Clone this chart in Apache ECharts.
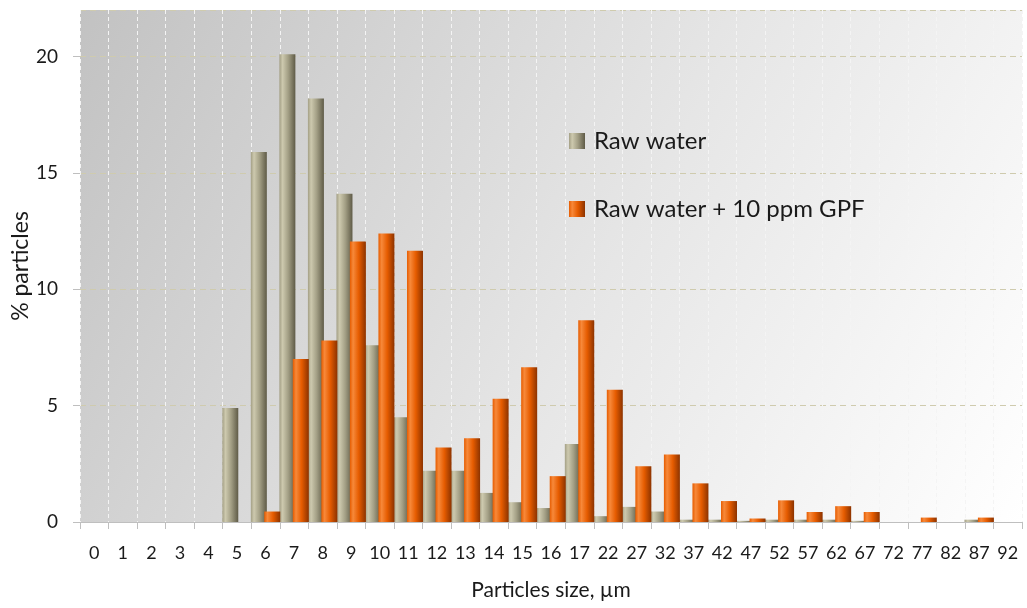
<!DOCTYPE html>
<html>
<head>
<meta charset="utf-8">
<script src="https://cdn.jsdelivr.net/npm/echarts@6/dist/echarts.min.js"></script>
<style>
  html, body { margin: 0; padding: 0; background: #fff; }
  #chart { width: 1027px; height: 608px; }
</style>
</head>
<body>
<div id="chart"></div>
<script>
// particle size classes (µm)
const categories = ["0", "1", "2", "3", "4", "5", "6", "7", "8", "9", "10", "11", "12", "13", "14", "15", "16", "17",
  "22", "27", "32", "37", "42", "47", "52", "57", "62", "67", "72", "77", "82", "87", "92"];
const rawWater = [0, 0, 0, 0, 0, 4.9, 15.9, 20.1, 18.2, 14.1, 7.6, 4.5, 2.2, 2.2, 1.25, 0.85, 0.6, 3.35,
  0.25, 0.65, 0.45, 0.1, 0.1, 0.05, 0.1, 0.1, 0.1, 0.05, 0, 0, 0, 0.1, 0];
const rawWaterGpf = [0, 0, 0, 0, 0, 0, 0.45, 7.0, 7.8, 12.05, 12.4, 11.65, 3.2, 3.6, 5.3, 6.65, 1.97, 8.67,
  5.68, 2.4, 2.9, 1.66, 0.9, 0.15, 0.93, 0.43, 0.68, 0.43, 0, 0.19, 0, 0.19, 0];
const yTicks = [0, 5, 10, 15, 20];

const font = "Lato, 'Open Sans', sans-serif";

function barShade(light, mid, dark) {
  return new echarts.graphic.LinearGradient(0, 0, 1, 0, [
    { offset: 0, color: mid },
    { offset: 0.2, color: light },
    { offset: 0.55, color: mid },
    { offset: 1, color: dark }
  ]);
}

const chart = echarts.init(document.getElementById("chart"));
chart.setOption({
  animation: false,
  backgroundColor: "#fff",
  grid: {
    left: 80,
    right: 5,
    top: 10,
    bottom: 86,
    outerBoundsMode: "none",
    show: true,
    borderWidth: 0,
    backgroundColor: new echarts.graphic.LinearGradient(0, 0, 1, 1, [
      { offset: 0, color: "#c2c2c2" },
      { offset: 0.55, color: "#e6e6e6" },
      { offset: 1, color: "#ffffff" }
    ])
  },
  legend: {
    orient: "vertical",
    left: 564,
    top: 124,
    itemGap: 44,
    itemWidth: 16,
    itemHeight: 16,
    icon: "rect",
    textStyle: { fontFamily: font, fontSize: 24, color: "#1a1a1a", padding: [0, 0, 0, 4] },
    data: ["Raw water", "Raw water + 10 ppm GPF"]
  },
  xAxis: {
    type: "category",
    data: categories,
    name: "Particles size, µm",
    nameLocation: "middle",
    nameGap: 58,
    nameTextStyle: { fontFamily: font, fontSize: 21, color: "#1a1a1a" },
    axisLine: { lineStyle: { color: "#bfbfbf" } },
    axisTick: { show: true, length: 7, lineStyle: { color: "#bfbfbf" } },
    axisLabel: { fontFamily: font, fontSize: 18, color: "#1a1a1a", margin: 22, interval: 0 },
    splitLine: { show: true, lineStyle: { color: "#f4f4f4", type: [4, 3], width: 1 } }
  },
  yAxis: {
    type: "value",
    min: 0,
    max: 22,
    interval: 5,
    name: "% particles",
    nameLocation: "middle",
    nameGap: 48,
    nameMoveOverlap: false,
    nameTextStyle: { fontFamily: font, fontSize: 23, color: "#1a1a1a" },
    axisLine: { show: false },
    axisTick: { show: true, length: 7, lineStyle: { color: "#bfbfbf" } },
    axisLabel: {
      fontFamily: font, fontSize: 19, color: "#1a1a1a", margin: 22, showMaxLabel: false,
      formatter: v => (yTicks.indexOf(v) >= 0 ? String(v) : "")
    },
    splitLine: { lineStyle: { color: "#cfcbae", type: [6, 4], width: 1 } }
  },
  series: [
    {
      name: "Raw water",
      type: "bar",
      barWidth: 16,
      barGap: "-16%",
      data: rawWater,
      itemStyle: { color: barShade("#cdc9ae", "#a39f85", "#5f5b47") }
    },
    {
      name: "Raw water + 10 ppm GPF",
      type: "bar",
      barWidth: 16,
      data: rawWaterGpf,
      itemStyle: { color: barShade("#f7893a", "#e65c00", "#8c3300") }
    }
  ]
});
</script>
</body>
</html>
